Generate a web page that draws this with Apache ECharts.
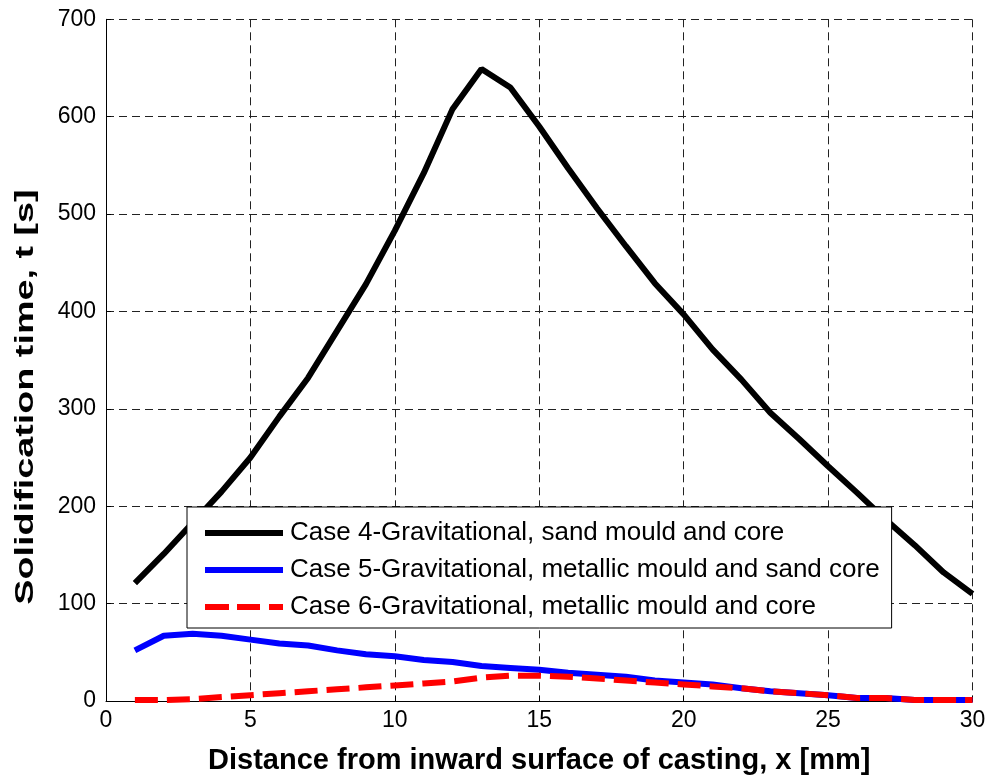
<!DOCTYPE html>
<html>
<head>
<meta charset="utf-8">
<title>Solidification time vs distance</title>
<script src="https://cdn.jsdelivr.net/npm/echarts@6/dist/echarts.min.js"></script>
<style>
  html, body { margin: 0; padding: 0; background: #fff; }
  #chart { width: 991px; height: 780px; }
</style>
</head>
<body>
<div id="chart"></div>
<script>
// Distance from inward surface of casting, x [mm]
const distances = [1, 2, 3, 4, 5, 6, 7, 8, 9, 10, 11, 12, 13, 14, 15,
                   16, 17, 18, 19, 20, 21, 22, 23, 24, 25, 26, 27, 28, 29, 30];

// Solidification time t [s] for each case
const case4Sand = [121, 151, 183, 215, 250, 292, 332, 380, 428, 483, 542, 608, 649, 630, 590,
                   547, 506, 467, 429, 397, 361, 330, 296, 269, 241, 214, 186, 160, 132, 110];
const case5MetalSandCore = [52, 67, 69, 67, 63, 59, 57, 52, 48, 46, 42, 40, 36, 34, 32,
                            29, 27, 25, 21, 19, 17, 13, 10, 8, 6, 3, 3, 1, 1, 1];
const case6Metal = [1, 1, 2, 4, 6, 8, 10, 12, 14, 16, 18, 20, 24, 26, 26,
                    25, 23, 21, 19, 17, 15, 13, 10, 8, 6, 3, 3, 1, 1, 1];

const seriesNames = [
  'Case 4-Gravitational, sand mould and core',
  'Case 5-Gravitational, metallic mould and sand core',
  'Case 6-Gravitational, metallic mould and core'
];

const xTicks = { min: 0, max: 30, interval: 5 };
const yTicks = { min: 0, max: 700, interval: 100 };

const FONT = '"Liberation Sans", Arial, Helvetica, sans-serif';

// Legend swatches: a solid bar and a dashed bar, 78 x 6
const SOLID_ICON = 'path://M0,0H78V6H0Z';
const DASHED_ICON = 'path://M0,0H24V6H0Z M32,0H55V6H32Z M64,0H78V6H64Z';

function pairs(values) {
  return distances.map((x, i) => [x, values[i]]);
}

const chart = echarts.init(document.getElementById('chart'), null, { renderer: 'canvas' });

const gridLine = { show: true, lineStyle: { color: '#222', width: 1, type: [8, 5] } };

chart.setOption({
  animation: false,
  backgroundColor: '#fff',
  grid: { left: 106, right: 18.5, top: 19.3, bottom: 77.7, containLabel: false },
  xAxis: {
    type: 'value',
    min: xTicks.min, max: xTicks.max, interval: xTicks.interval,
    name: 'Distance from inward surface of casting, x [mm]',
    nameLocation: 'middle',
    nameGap: 45,
    nameTextStyle: { fontFamily: FONT, fontWeight: 'bold', fontSize: 29, color: '#000' },
    axisLine: { show: true, onZero: false, lineStyle: { color: '#000', width: 1 } },
    axisTick: { show: true, inside: true, length: 5, lineStyle: { color: '#000' } },
    axisLabel: { fontFamily: FONT, fontSize: 23, color: '#000', margin: 8 },
    splitLine: gridLine
  },
  yAxis: {
    type: 'value',
    min: yTicks.min, max: yTicks.max, interval: yTicks.interval,
    axisLine: { show: true, lineStyle: { color: '#000', width: 1 } },
    axisTick: { show: true, inside: true, length: 5, lineStyle: { color: '#000' } },
    axisLabel: { fontFamily: FONT, fontSize: 23, color: '#000', margin: 10 },
    splitLine: gridLine
  },
  legend: {
    orient: 'vertical',
    left: 187, top: 507,
    width: 703,
    padding: [11, 12, 6, 18],
    itemGap: 7,
    itemWidth: 78,
    itemHeight: 6,
    backgroundColor: '#fff',
    borderColor: '#000',
    borderWidth: 1,
    borderRadius: 0,
    textStyle: { fontFamily: FONT, fontSize: 26, color: '#000', lineHeight: 30, padding: [0, 0, 0, 2] },
    data: [
      { name: seriesNames[0], icon: SOLID_ICON },
      { name: seriesNames[1], icon: SOLID_ICON },
      { name: seriesNames[2], icon: DASHED_ICON }
    ]
  },
  graphic: [{
    type: 'text',
    x: 26, y: 397,
    rotation: Math.PI / 2,
    scaleX: 1.51,
    style: {
      text: 'Solidification time, t [s]',
      fontFamily: FONT,
      fontWeight: 'bold',
      fontSize: 25,
      fill: '#000',
      align: 'center',
      verticalAlign: 'middle'
    }
  }],
  series: [
    {
      name: seriesNames[0], type: 'line', data: pairs(case4Sand),
      symbol: 'none', z: 3,
      lineStyle: { color: '#000', width: 6 }, itemStyle: { color: '#000' }
    },
    {
      name: seriesNames[1], type: 'line', data: pairs(case5MetalSandCore),
      symbol: 'none', z: 4,
      lineStyle: { color: '#0000ff', width: 6 }, itemStyle: { color: '#0000ff' }
    },
    {
      name: seriesNames[2], type: 'line', data: pairs(case6Metal),
      symbol: 'none', z: 5,
      lineStyle: { color: '#ff0000', width: 6, type: [23, 9] }, itemStyle: { color: '#ff0000' }
    }
  ]
});
</script>
</body>
</html>
